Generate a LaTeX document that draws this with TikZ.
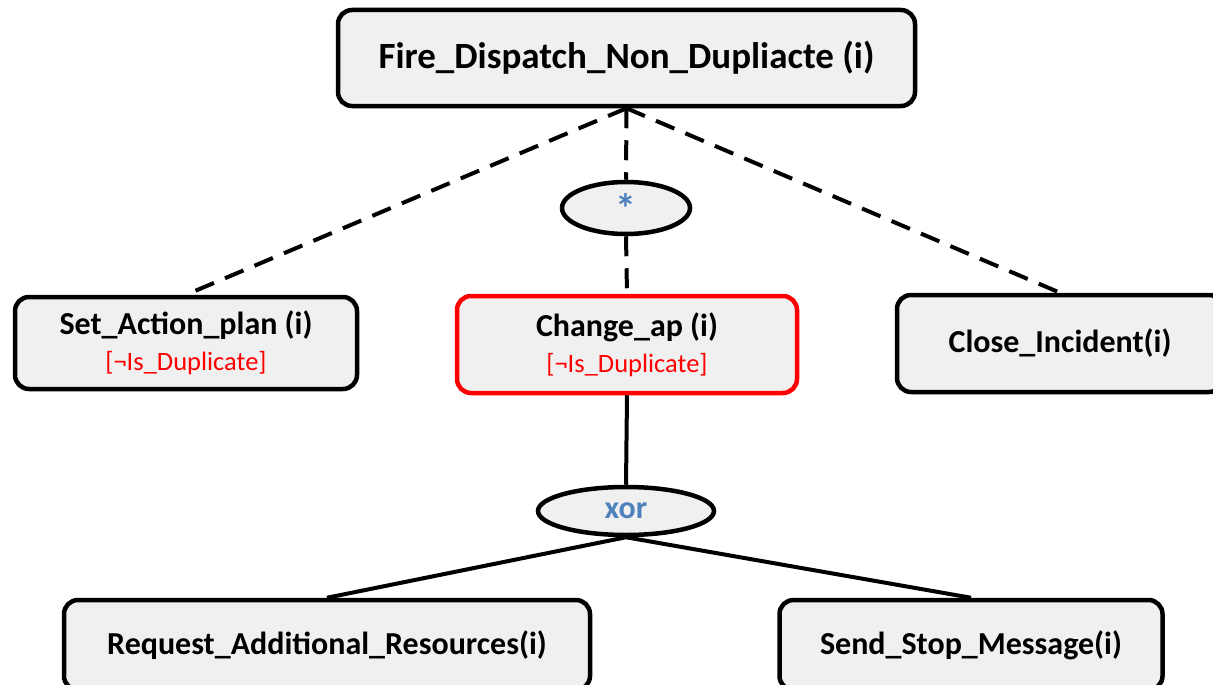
\documentclass[tikz,border=0pt]{standalone}
\usepackage{fontspec}
\setmainfont{Carlito}
\usetikzlibrary{shapes.geometric}
\definecolor{boxfill}{HTML}{F0F0F0}
\definecolor{opblue}{HTML}{4F81BD}
\definecolor{guardred}{HTML}{FF0000}
\tikzset{
  taskbox/.style={draw=black, line width=4.5pt, rounded corners=14pt, fill=boxfill,
    inner sep=0pt, align=center, font=\bfseries\fontsize{32}{36}\selectfont},
  redbox/.style={taskbox, draw=guardred},
  opnode/.style={ellipse, draw=black, line width=4.5pt, fill=boxfill, inner sep=0pt,
    text=opblue, font=\bfseries\fontsize{32}{36}\selectfont},
  dashedlink/.style={line width=4pt, dash pattern=on 20pt off 12pt},
  solidlink/.style={line width=4pt},
}
\newcommand{\guard}[1]{{\color{guardred}\mdseries\fontsize{26.5}{30}\selectfont #1}}
\begin{document}
\begin{tikzpicture}[x=1pt,y=-1pt]
\useasboundingbox (0,0) rectangle (1213,685);
\clip (0,0) rectangle (1213,685);
\fill[white] (0,0) rectangle (1213,685);

\node[taskbox, minimum width=577pt, minimum height=96pt, font=\bfseries\fontsize{37}{41}\selectfont] (top) at (626.5,58) {Fire\_Dispatch\_Non\_Dupliacte (i)};
\node[opnode, minimum width=128pt, minimum height=52pt, font=\bfseries\fontsize{42}{44}\selectfont] (star) at (626,208) {\raisebox{-8pt}{*}};
\node[taskbox, minimum width=342pt, minimum height=92pt] (sap) at (186,343) {Set\_Action\_plan (i)\\[0pt]\guard{[¬Is\_Duplicate]}};
\node[redbox, minimum width=340pt, minimum height=97pt] (chg) at (627,344.5) {Change\_ap (i)\\[0pt]\guard{[¬Is\_Duplicate]}};
\node[taskbox, minimum width=326pt, minimum height=97pt] (close) at (1060,343.5) {Close\_Incident(i)};
\node[opnode, minimum width=176pt, minimum height=48pt] (xor) at (626,511) {xor};
\node[taskbox, minimum width=526pt, minimum height=90pt] (req) at (327,645) {Request\_Additional\_Resources(i)};
\node[taskbox, minimum width=383pt, minimum height=90pt] (send) at (971,645) {Send\_Stop\_Message(i)};

\draw[dashedlink] (top.south) -- (sap.north);
\draw[dashedlink] (top.south) -- (star.north);
\draw[dashedlink] (star.south) -- (chg.north);
\draw[dashedlink] (top.south) -- (close.north);
\draw[solidlink] (chg.south) -- (xor.north);
\draw[solidlink] (xor.south) -- (req.north);
\draw[solidlink] (xor.south) -- (send.north);
\end{tikzpicture}
\end{document}
